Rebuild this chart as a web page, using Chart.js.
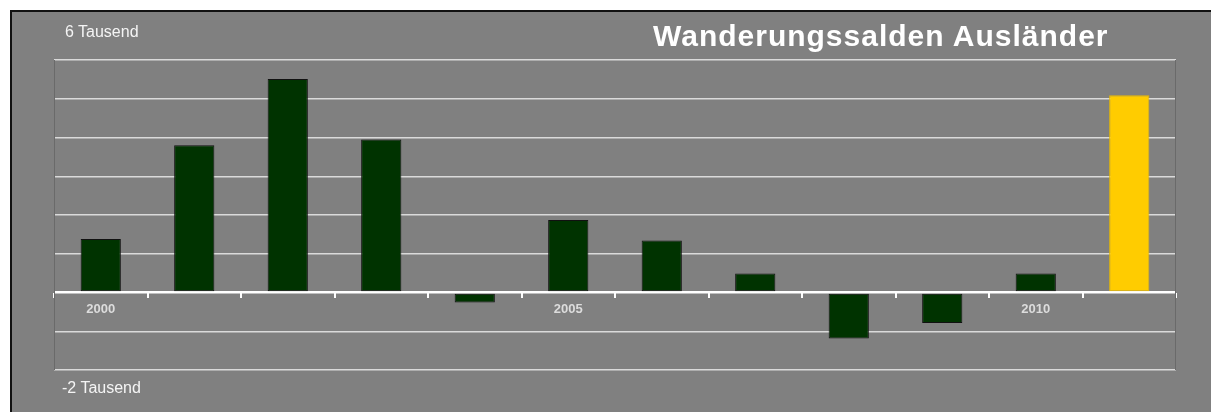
<!DOCTYPE html>
<html>
<head>
<meta charset="utf-8">
<script src="https://cdn.jsdelivr.net/npm/chart.js@4"></script>
<style>
  html, body { margin: 0; padding: 0; background: #fff; }
  body { width: 1211px; height: 412px; position: relative; overflow: hidden; font-family: "Liberation Sans", Arial, sans-serif; }
  .frame { position: absolute; left: 10px; top: 10px; width: 1220px; height: 420px; background: #808080; border-left: 2px solid #111; border-top: 2px solid #111; }
  .wrap { position: absolute; left: 0; top: 0; width: 1211px; height: 412px; }
  .lbl { position: absolute; color: #f4f4f4; font-size: 16px; }
  .title { position: absolute; left: 653px; top: 19px; color: #fff; font-size: 30px; font-weight: bold; letter-spacing: 1px; white-space: nowrap; }
</style>
</head>
<body>
<div class="frame"></div>
<div class="wrap"><canvas id="chart" width="1211" height="412"></canvas></div>
<div class="lbl" style="left:65px;top:23px">6 Tausend</div>
<div class="lbl" style="left:62px;top:379px">-2 Tausend</div>
<div class="title">Wanderungssalden Ausländer</div>
<script>
'use strict';

const YEARS = ['2000','2001','2002','2003','2004','2005','2006','2007','2008','2009','2010','2011'];
const SALDO = [1380, 3800, 5510, 3950, -260, 1870, 1340, 490, -1190, -790, 490, 5090];
const SHOWN_YEARS = ['2000', '2005', '2010'];
const Y_MIN = -2000;
const Y_MAX = 6000;
const Y_STEP = 1000;

const barColors  = YEARS.map((y, i) => i === YEARS.length - 1 ? '#ffcc00' : '#003300');
const edgeColors = YEARS.map((y, i) => i === YEARS.length - 1 ? '#e8b900' : '#111');

/* plot edges left / right */
const edgePlugin = {
  id: 'edges',
  beforeDatasetsDraw(chart) {
    const { ctx, chartArea: a } = chart;
    ctx.save();
    ctx.strokeStyle = '#6a6a6a';
    ctx.lineWidth = 1;
    ctx.beginPath();
    ctx.moveTo(a.left + 0.5, a.top);
    ctx.lineTo(a.left + 0.5, a.bottom);
    ctx.moveTo(a.right - 0.5, a.top);
    ctx.lineTo(a.right - 0.5, a.bottom);
    ctx.stroke();
    ctx.restore();
  }
};

new Chart(document.getElementById('chart').getContext('2d'), {
  type: 'bar',
  data: {
    labels: YEARS,
    datasets: [{
      data: SALDO,
      backgroundColor: barColors,
      borderColor: edgeColors,
      borderWidth: 1,
      borderSkipped: false,
      barPercentage: 0.43,
      categoryPercentage: 1,
    }],
  },
  options: {
    responsive: false,
    animation: false,
    layout: { padding: { left: 54, right: 35, top: 60, bottom: 42 } },
    plugins: { legend: { display: false }, tooltip: { enabled: false } },
    scales: {
      x: {
        position: { y: 0 },
        grid: { drawOnChartArea: false, drawTicks: true, tickLength: 5, color: '#ffffff', lineWidth: 2 },
        border: { display: false },
        ticks: {
          autoSkip: false,
          maxRotation: 0,
          padding: 4,
          color: '#dcdcdc',
          font: { family: 'Liberation Sans, Arial, sans-serif', size: 13, weight: 'bold' },
          callback: (v, i) => SHOWN_YEARS.includes(YEARS[i]) ? YEARS[i] : '',
        },
      },
      y: {
        min: Y_MIN,
        max: Y_MAX,
        ticks: { display: false, stepSize: Y_STEP },
        border: { display: false },
        grid: {
          drawTicks: false,
          color: c => c.tick.value === 0 ? '#ffffff' : '#dadada',
          lineWidth: c => c.tick.value === 0 ? 2.5 : 1.5,
        },
      },
    },
  },
  plugins: [edgePlugin],
});
</script>
</body>
</html>
